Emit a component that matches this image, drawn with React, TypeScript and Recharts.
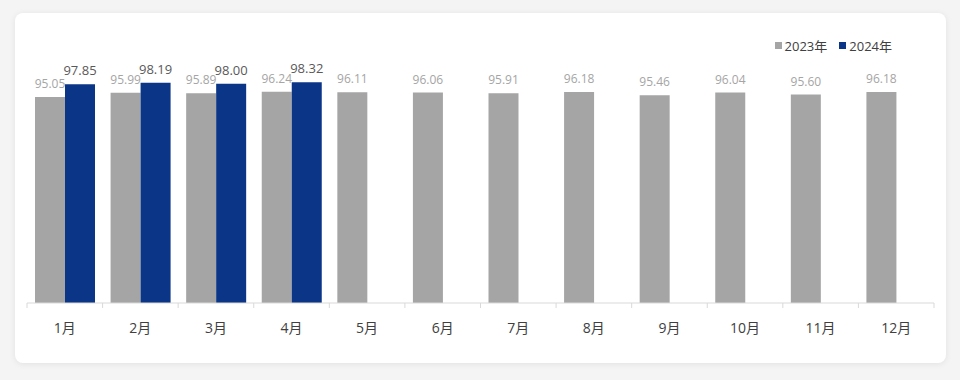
import React from 'react';
import {BarChart, Bar, XAxis, YAxis, Legend, LabelList} from 'recharts';

const months = ['1月', '2月', '3月', '4月', '5月', '6月', '7月', '8月', '9月', '10月', '11月', '12月'];
const values2023 = [95.05, 95.99, 95.89, 96.24, 96.11, 96.06, 95.91, 96.18, 95.46, 96.04, 95.6, 96.18];
const values2024 = [97.85, 98.19, 98.0, 98.32, null, null, null, null, null, null, null, null];

const FONT = '"Open Sans", "Noto Sans CJK SC", sans-serif';
const GRAY = '#a5a5a5';
const BLUE = '#0b3586';
const CHART_W = 931;
const CHART_H = 350;
const M_LEFT = 12;
const M_RIGHT = 12;
const STEP = (CHART_W - M_LEFT - M_RIGHT) / months.length;

const data = months.map((m, i) => ({month: m, y2023: values2023[i], y2024: values2024[i]}));

function MonthTick(props: any) {
	const {x, y, payload, index} = props;
	const last = index === months.length - 1;
	return (
		<g>
			<line x1={x - STEP / 2} x2={x - STEP / 2} y1={y} y2={y + 5} stroke='#d9d9d9'/>
			{last && <line x1={x + STEP / 2} x2={x + STEP / 2} y1={y} y2={y + 5} stroke='#d9d9d9'/>}
			<text x={x} y={y + 24.5} textAnchor='middle' dominantBaseline='central' fill='#404040' fontSize={14} fontFamily={FONT}>
				{payload.value}
			</text>
		</g>
	);
}

function LegendBox(props: any) {
	const items = props.payload || [];
	return (
		<div style={{display: 'flex', height: 20, alignItems: 'center', justifyContent: 'flex-end', fontFamily: FONT, fontSize: 13, color: '#404040'}}>
			{items.map((it: any, i: number) => (
				<div key={i} style={{display: 'flex', alignItems: 'center', marginLeft: i === 0 ? 0 : 12}}>
					<span style={{display: 'inline-block', width: 7, height: 7, background: it.color, marginRight: 3}}/>
					<span>{it.value}</span>
				</div>
			))}
		</div>
	);
}

export default function App() {
	return (
		<div style={{position: 'absolute', left: 0, top: 0, width: 960, height: 380, background: '#f4f4f4'}}>
			<div
				style={{
					position: 'absolute',
					left: 15,
					top: 13,
					width: CHART_W,
					height: CHART_H,
					background: '#fff',
					borderRadius: 8,
					boxShadow: '0 1px 6px rgba(0,0,0,0.08)',
				}}
			>
				<BarChart
					width={CHART_W}
					height={CHART_H}
					data={data}
					margin={{top: 41.5, right: M_RIGHT, left: M_LEFT, bottom: 30}}
					barGap={0}
					barSize={30}
				>
					<XAxis
						dataKey='month'
						axisLine={{stroke: '#d9d9d9'}}
						tickLine={false}
						tickSize={0}
						tickMargin={0}
						height={30}
						interval={0}
						tick={<MonthTick/>}
					/>
					<YAxis hide type='number' domain={[50, 100]}/>
					<Legend
						verticalAlign='top'
						align='right'
						content={<LegendBox/>}
						wrapperStyle={{top: 22, right: 54, left: 'auto', width: 'auto'}}
					/>
					<Bar dataKey='y2023' name='2023年' fill={GRAY} isAnimationActive={false}>
						<LabelList dataKey='y2023' position='top' offset={9} fill={GRAY} fontSize={12} fontFamily={FONT} formatter={(v: any) => (v == null ? '' : Number(v).toFixed(2))}/>
					</Bar>
					<Bar dataKey='y2024' name='2024年' fill={BLUE} isAnimationActive={false}>
						<LabelList dataKey='y2024' position='top' offset={9} fill='#595959' fontSize={13} fontFamily={FONT} formatter={(v: any) => (v == null ? '' : Number(v).toFixed(2))}/>
					</Bar>
				</BarChart>
			</div>
		</div>
	);
}
